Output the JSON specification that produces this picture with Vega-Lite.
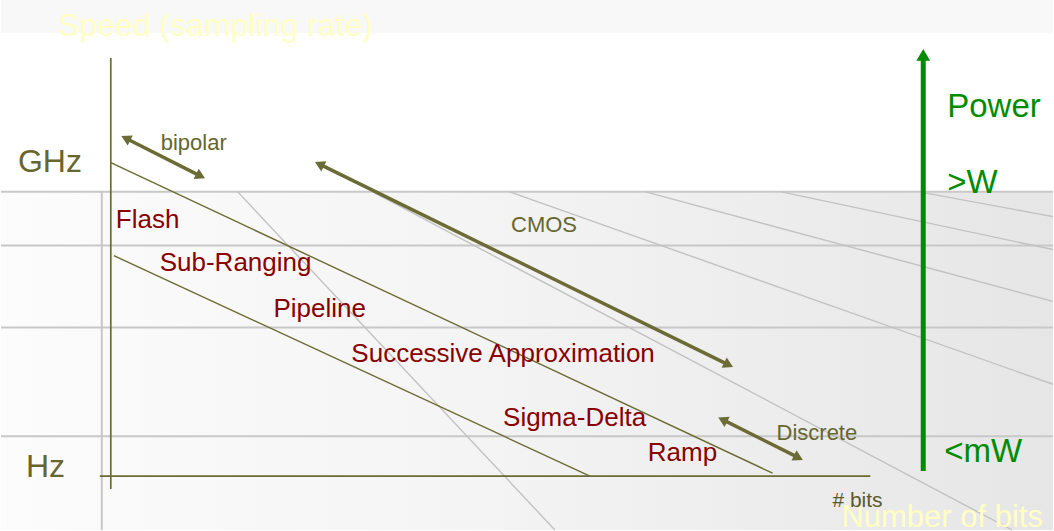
{
  "$schema": "https://vega.github.io/schema/vega-lite/v6.json",
  "width": 1054,
  "height": 531,
  "autosize": {"type": "fit", "contains": "padding"},
  "padding": 0,
  "background": "#ffffff",
  "config": {"view": {"stroke": null}},
  "datasets": {
    "bandTop": [{"x": 0, "x2": 1054, "y": 0, "y2": 33}],
    "bandLow": [{"x": 0, "x2": 1054, "y": 192, "y2": 531}],
    "grid": [
      {"x": 0, "y": 192, "x2": 1054, "y2": 192},
      {"x": 0, "y": 246, "x2": 1054, "y2": 246},
      {"x": 0, "y": 328, "x2": 1054, "y2": 328},
      {"x": 0, "y": 437, "x2": 1054, "y2": 437},
      {"x": 101, "y": 192, "x2": 101, "y2": 531}
    ],
    "diag": [
      {"x": 237, "y": 192, "x2": 555, "y2": 531},
      {"x": 372, "y": 192, "x2": 1013, "y2": 531},
      {"x": 509, "y": 192, "x2": 1054, "y2": 385},
      {"x": 645, "y": 192, "x2": 1054, "y2": 302},
      {"x": 781, "y": 192, "x2": 1054, "y2": 250},
      {"x": 924, "y": 193, "x2": 1054, "y2": 217}
    ],
    "axes": [
      {"x": 110, "y": 58, "x2": 110, "y2": 490},
      {"x": 99, "y": 477, "x2": 871, "y2": 477}
    ],
    "bounds": [
      {"x": 110, "y": 163, "x2": 773, "y2": 474},
      {"x": 113, "y": 256, "x2": 590, "y2": 477}
    ],
    "shafts": [
      {"name": "bipolar", "x": 126.5, "y": 139.3, "x2": 198.5, "y2": 175.7},
      {"name": "CMOS", "x": 320.5, "y": 165.2, "x2": 727.5, "y2": 364.8},
      {"name": "Discrete", "x": 724.5, "y": 421.2, "x2": 797.5, "y2": 457.8}
    ],
    "headsDown": [
      {"name": "bipolar", "x": 198.5, "y": 175.7},
      {"name": "CMOS", "x": 727.5, "y": 364.8},
      {"name": "Discrete", "x": 797.5, "y": 457.8}
    ],
    "headsUp": [
      {"name": "bipolar", "x": 126.5, "y": 139.3},
      {"name": "CMOS", "x": 320.5, "y": 165.2},
      {"name": "Discrete", "x": 724.5, "y": 421.2}
    ],
    "power": [{"x": 924, "y": 57, "x2": 924, "y2": 472}],
    "powerHead": [{"x": 924, "y": 57}],
    "speedTitle": [{"x": 57, "y": 36, "text": "Speed (sampling rate)"}],
    "bitsTitle": [{"x": 842, "y": 528, "text": "Number of bits"}],
    "freq": [
      {"x": 17, "y": 172, "text": "GHz"},
      {"x": 25, "y": 478, "text": "Hz"}
    ],
    "powerText": [
      {"x": 948, "y": 117, "text": "Power"},
      {"x": 948, "y": 193, "text": ">W"},
      {"x": 945, "y": 463, "text": "<mW"}
    ],
    "tech": [
      {"x": 160, "y": 150, "text": "bipolar"},
      {"x": 511, "y": 232, "text": "CMOS"},
      {"x": 777, "y": 441, "text": "Discrete"}
    ],
    "bitsSmall": [{"x": 833, "y": 508, "text": "# bits"}],
    "arch": [
      {"x": 115, "y": 228, "text": "Flash"},
      {"x": 159, "y": 272, "text": "Sub-Ranging"},
      {"x": 273, "y": 318, "text": "Pipeline"},
      {"x": 351, "y": 363, "text": "Successive Approximation"},
      {"x": 503, "y": 427, "text": "Sigma-Delta"},
      {"x": 648, "y": 462, "text": "Ramp"}
    ]
  },
  "encoding": {
    "x": {"field": "x", "type": "quantitative", "scale": {"domain": [0, 1054], "nice": false, "zero": false}, "axis": null},
    "y": {"field": "y", "type": "quantitative", "scale": {"domain": [0, 531], "nice": false, "zero": false, "reverse": true}, "axis": null}
  },
  "layer": [
    {
      "data": {"name": "bandTop"},
      "mark": {"type": "rect", "fill": "#f8f8f8"},
      "encoding": {"x2": {"field": "x2"}, "y2": {"field": "y2"}}
    },
    {
      "data": {"name": "bandLow"},
      "mark": {"type": "rect", "fill": {"gradient": "linear", "x1": 0, "y1": 0, "x2": 1, "y2": 0, "stops": [{"offset": 0, "color": "#fcfcfc"}, {"offset": 0.45, "color": "#f4f4f4"}, {"offset": 1, "color": "#e6e6e6"}]}},
      "encoding": {"x2": {"field": "x2"}, "y2": {"field": "y2"}}
    },
    {
      "data": {"name": "grid"},
      "mark": {"type": "rule", "color": "#c8c8c8", "strokeWidth": 2},
      "encoding": {"x2": {"field": "x2"}, "y2": {"field": "y2"}}
    },
    {
      "data": {"name": "diag"},
      "mark": {"type": "rule", "color": "#c2c2c2", "strokeWidth": 1.4},
      "encoding": {"x2": {"field": "x2"}, "y2": {"field": "y2"}}
    },
    {
      "data": {"name": "axes"},
      "mark": {"type": "rule", "color": "#6b6b35", "strokeWidth": 1.7},
      "encoding": {"x2": {"field": "x2"}, "y2": {"field": "y2"}}
    },
    {
      "data": {"name": "bounds"},
      "mark": {"type": "rule", "color": "#6b6b35", "strokeWidth": 1.4},
      "encoding": {"x2": {"field": "x2"}, "y2": {"field": "y2"}}
    },
    {
      "data": {"name": "shafts"},
      "mark": {"type": "rule", "color": "#6b6b35", "strokeWidth": 3.5},
      "encoding": {"x2": {"field": "x2"}, "y2": {"field": "y2"}}
    },
    {
      "data": {"name": "headsDown"},
      "mark": {"type": "point", "shape": "triangle", "filled": true, "size": 130, "angle": 116.5, "color": "#6b6b35", "opacity": 1, "strokeWidth": 0}
    },
    {
      "data": {"name": "headsUp"},
      "mark": {"type": "point", "shape": "triangle", "filled": true, "size": 130, "angle": 296.5, "color": "#6b6b35", "opacity": 1, "strokeWidth": 0}
    },
    {
      "data": {"name": "power"},
      "mark": {"type": "rule", "color": "#008c00", "strokeWidth": 5},
      "encoding": {"x2": {"field": "x2"}, "y2": {"field": "y2"}}
    },
    {
      "data": {"name": "powerHead"},
      "mark": {"type": "point", "shape": "triangle", "filled": true, "size": 190, "angle": 0, "color": "#008c00", "opacity": 1, "strokeWidth": 0}
    },
    {
      "data": {"name": "speedTitle"},
      "mark": {"type": "text", "font": "Liberation Sans", "fontSize": 32, "align": "left", "baseline": "alphabetic", "color": "#ffffc4"},
      "encoding": {"text": {"field": "text"}}
    },
    {
      "data": {"name": "bitsTitle"},
      "mark": {"type": "text", "font": "Liberation Sans", "fontSize": 31, "align": "left", "baseline": "alphabetic", "color": "#ffffc4", "clip": true},
      "encoding": {"text": {"field": "text"}}
    },
    {
      "data": {"name": "freq"},
      "mark": {"type": "text", "font": "Liberation Sans", "fontSize": 32, "align": "left", "baseline": "alphabetic", "color": "#66662e"},
      "encoding": {"text": {"field": "text"}}
    },
    {
      "data": {"name": "powerText"},
      "mark": {"type": "text", "font": "Liberation Sans", "fontSize": 33, "align": "left", "baseline": "alphabetic", "color": "#008c00"},
      "encoding": {"text": {"field": "text"}}
    },
    {
      "data": {"name": "tech"},
      "mark": {"type": "text", "font": "Liberation Sans", "fontSize": 22, "align": "left", "baseline": "alphabetic", "color": "#66662e"},
      "encoding": {"text": {"field": "text"}}
    },
    {
      "data": {"name": "bitsSmall"},
      "mark": {"type": "text", "font": "Liberation Sans", "fontSize": 21, "align": "left", "baseline": "alphabetic", "color": "#5a5a28"},
      "encoding": {"text": {"field": "text"}}
    },
    {
      "data": {"name": "arch"},
      "mark": {"type": "text", "font": "Liberation Sans", "fontSize": 26, "align": "left", "baseline": "alphabetic", "color": "#880000"},
      "encoding": {"text": {"field": "text"}}
    }
  ]
}
